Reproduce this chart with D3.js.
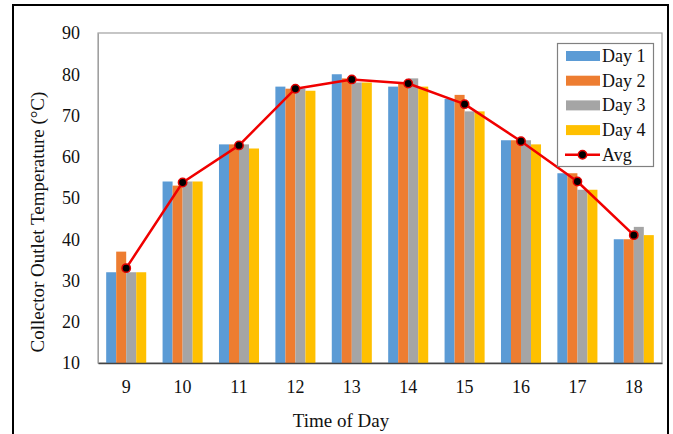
<!DOCTYPE html>
<html><head><meta charset="utf-8">
<script src="https://cdn.jsdelivr.net/npm/d3@7/dist/d3.min.js"></script>
<style>body{margin:0;background:#fff}svg{display:block}text{font-family:"Liberation Serif","Times New Roman",serif;fill:#111}</style>
</head><body><svg id="c" width="673" height="434"></svg>
<script>
const categories = ["9","10","11","12","13","14","15","16","17","18"];
const seriesNames = ["Day 1","Day 2","Day 3","Day 4"];
const day1 = [32,54,63,77,80,77,74,64,56,40];
const day2 = [37,53,63,76.5,79,78,75,64,56,40];
const day3 = [32,54,63,76.5,78,79,71,64,52,43];
const day4 = [32,54,62,76,78,77,71,63,52,41];
const avg  = [33,53.75,62.75,76.5,78.75,77.75,72.75,63.75,54,41];
const yTicks = [10,20,30,40,50,60,70,80,90];
const colors = ["#5B9BD5","#ED7D31","#A5A5A5","#FFC000"];
const series = [day1,day2,day3,day4];

const svg = d3.select("#c");
const L=98, R=662, T=33, B=363;

// outer border
svg.append("rect").attr("x",13).attr("y",5).attr("width",655).attr("height",440)
  .attr("fill","none").attr("stroke","#000").attr("stroke-width",2);

const x = d3.scaleBand().domain(categories).range([L,R]).paddingInner(0.29).paddingOuter(0.145);
const xs = d3.scaleBand().domain(seriesNames).range([0,x.bandwidth()]);
const y = d3.scaleLinear().domain([10,90]).range([B,T]);

// plot frame
svg.append("rect").attr("x",L).attr("y",T).attr("width",R-L).attr("height",B-T)
  .attr("fill","none").attr("stroke","#A0A0A0").attr("stroke-width",1.2);

// bars
series.forEach((s,si)=>{
  svg.append("g").selectAll("rect").data(s).join("rect")
    .attr("x",(d,i)=>x(categories[i])+xs(seriesNames[si]))
    .attr("y",d=>y(d)).attr("width",xs.bandwidth()).attr("height",d=>B-y(d))
    .attr("fill",colors[si]);
});

// axes
const ya = svg.append("g").attr("transform",`translate(${L},0)`)
  .call(d3.axisLeft(y).tickValues(yTicks).tickSize(0).tickPadding(18));
ya.select(".domain").attr("stroke","#A0A0A0");
ya.selectAll("text").attr("font-size",18).attr("font-family","Liberation Serif").attr("fill","#111");

const xa = svg.append("g").attr("transform",`translate(0,${B})`)
  .call(d3.axisBottom(x).tickSize(0).tickPadding(17));
xa.select(".domain").attr("stroke","#444").attr("stroke-width",1.5);
xa.selectAll("text").attr("font-size",18).attr("font-family","Liberation Serif").attr("fill","#111");

// avg line
const cx = (d,i)=>x(categories[i])+x.bandwidth()/2;
svg.append("path").datum(avg)
  .attr("d",d3.line().x(cx).y(d=>y(d)))
  .attr("fill","none").attr("stroke","#F00000").attr("stroke-width",2.5).attr("stroke-linejoin","round");
svg.append("g").selectAll("circle").data(avg).join("circle")
  .attr("cx",cx).attr("cy",d=>y(d)).attr("r",4.2)
  .attr("fill","#000").attr("stroke","#E00000").attr("stroke-width",1.5);

// axis titles
svg.append("text").attr("transform","translate(44,222) rotate(-90)")
  .attr("text-anchor","middle").attr("font-size",19).text("Collector Outlet Temperature (°C)");
svg.append("text").attr("x",341).attr("y",427).attr("text-anchor","middle")
  .attr("font-size",19).text("Time of Day");

// legend
const lg = svg.append("g");
lg.append("rect").attr("x",557.5).attr("y",43.5).attr("width",96).attr("height",123)
  .attr("fill","#fff").attr("stroke","#808080").attr("stroke-width",1.2);
const legItems = seriesNames.concat(["Avg"]);
legItems.forEach((n,i)=>{
  const cy = 56 + i*24.7;
  if(i<4){
    lg.append("rect").attr("x",566).attr("y",cy-5).attr("width",34).attr("height",10).attr("fill",colors[i]);
  } else {
    lg.append("line").attr("x1",565).attr("x2",600).attr("y1",cy).attr("y2",cy)
      .attr("stroke","#F00000").attr("stroke-width",2.5);
    lg.append("circle").attr("cx",582.5).attr("cy",cy).attr("r",4.2)
      .attr("fill","#000").attr("stroke","#E00000").attr("stroke-width",1.5);
  }
  lg.append("text").attr("x",602).attr("y",cy+6).attr("font-size",18).text(n);
});
</script></body></html>
